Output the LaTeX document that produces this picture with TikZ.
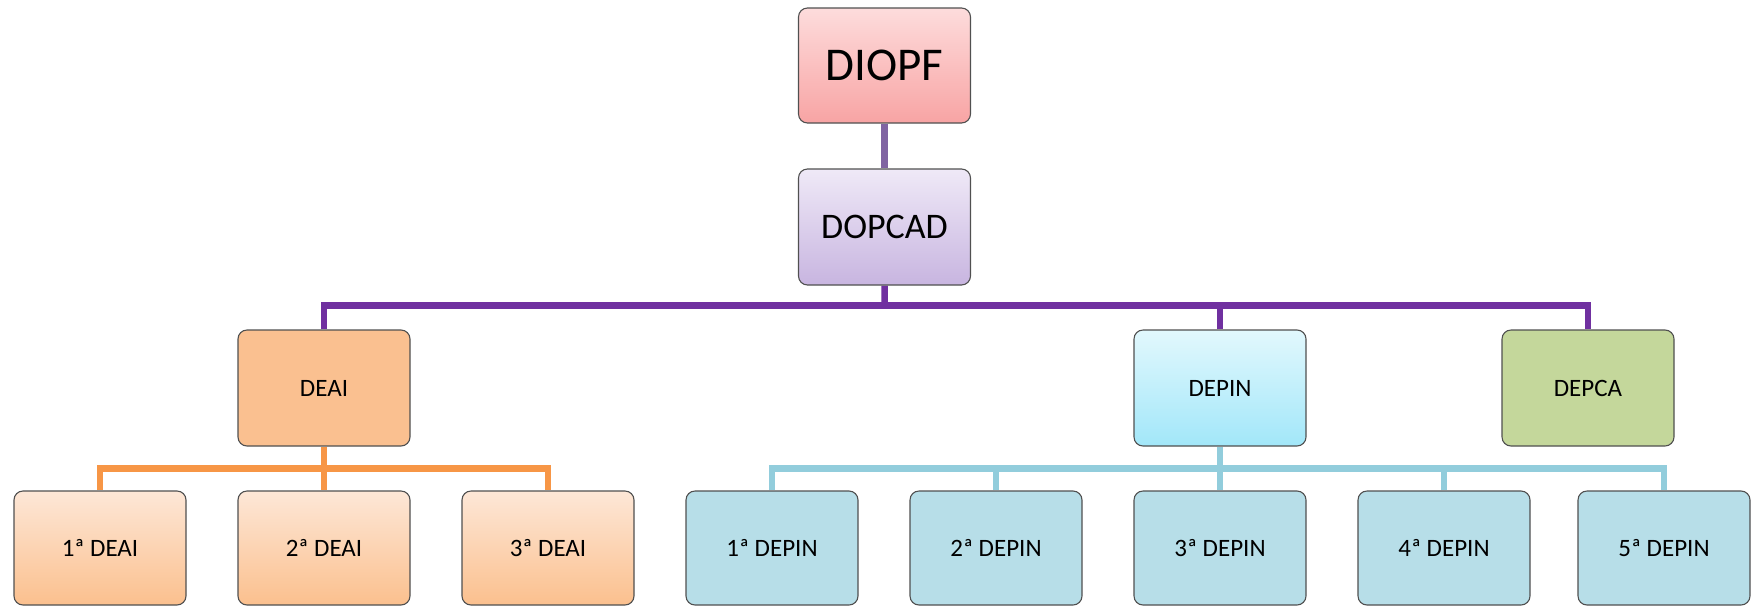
\documentclass[tikz,border=0pt]{standalone}
\usepackage{fontspec}
\setmainfont{Carlito}
\usetikzlibrary{calc,backgrounds}
\definecolor{pinkT}{HTML}{FDDCDC}
\definecolor{pinkB}{HTML}{F8A4A4}
\definecolor{lilaT}{HTML}{EFE9F7}
\definecolor{lilaB}{HTML}{C8B5E0}
\definecolor{orgS}{HTML}{FAC090}
\definecolor{orgT}{HTML}{FDE7D7}
\definecolor{orgB}{HTML}{FBC08E}
\definecolor{cyanT}{HTML}{E2F8FD}
\definecolor{cyanB}{HTML}{A2E7F9}
\definecolor{greenS}{HTML}{C4D79B}
\definecolor{blueS}{HTML}{B7DEE8}
\definecolor{lineP1}{HTML}{8064A2}
\definecolor{lineP2}{HTML}{7030A0}
\definecolor{lineO}{HTML}{F79646}
\definecolor{lineB}{HTML}{92CDDC}
\definecolor{border}{HTML}{505050}
\tikzset{
  box/.style={draw=border, line width=1.1pt, rounded corners=9pt, minimum width=172pt, minimum height=114pt, inner sep=0pt, align=center, font=\fontsize{25}{28}\selectfont},
  conn/.style={line width=6.5pt},
}
\begin{document}
\begin{tikzpicture}[x=1pt,y=-1pt]
\useasboundingbox (0,0) rectangle (1751,606);
% nodes
\node[box, top color=pinkT, bottom color=pinkB, minimum height=115pt, font=\fontsize{47}{50}\selectfont] (diopf) at (884.5,65.5) {DIOPF};
\node[box, top color=lilaT, bottom color=lilaB, minimum height=116pt, font=\fontsize{36}{40}\selectfont] (dopcad) at (884.5,227) {DOPCAD};
\node[box, fill=orgS, minimum height=116pt] (deai) at (324,388) {DEAI};
\node[box, top color=cyanT, bottom color=cyanB, minimum height=116pt] (depin) at (1220,388) {DEPIN};
\node[box, fill=greenS, minimum height=116pt] (depca) at (1588,388) {DEPCA};
\foreach \n/\x in {1/100,2/324,3/548}{
  \node[box, top color=orgT, bottom color=orgB] (deai\n) at (\x,548) {\n ª DEAI};
}
\foreach \n/\x in {1/772,2/996,3/1220,4/1444,5/1664}{
  \node[box, fill=blueS] (depin\n) at (\x,548) {\n ª DEPIN};
}
% connectors
\begin{scope}[on background layer]
\draw[conn, lineP1] (diopf.south) -- (dopcad.north);
\coordinate (pbar) at ($(dopcad.south)!0.45!(dopcad.south |- deai.north)$);
\draw[conn, lineP2] (dopcad.south) -- (pbar);
\draw[conn, lineP2] (deai.north) |- (pbar) -| (depca.north);
\draw[conn, lineP2] (depin.north) -- (depin.north |- pbar);
\coordinate (obar) at ($(deai.south)!0.5!(deai.south |- deai2.north)$);
\draw[conn, lineO] (deai.south) -- (deai2.north);
\draw[conn, lineO] (deai1.north) |- (obar) -| (deai3.north);
\coordinate (bbar) at ($(depin.south)!0.5!(depin.south |- depin3.north)$);
\draw[conn, lineB] (depin.south) -- (depin3.north);
\draw[conn, lineB] (depin1.north) |- (bbar) -| (depin5.north);
\draw[conn, lineB] (depin2.north) -- (depin2.north |- bbar);
\draw[conn, lineB] (depin4.north) -- (depin4.north |- bbar);
\end{scope}
\end{tikzpicture}
\end{document}
